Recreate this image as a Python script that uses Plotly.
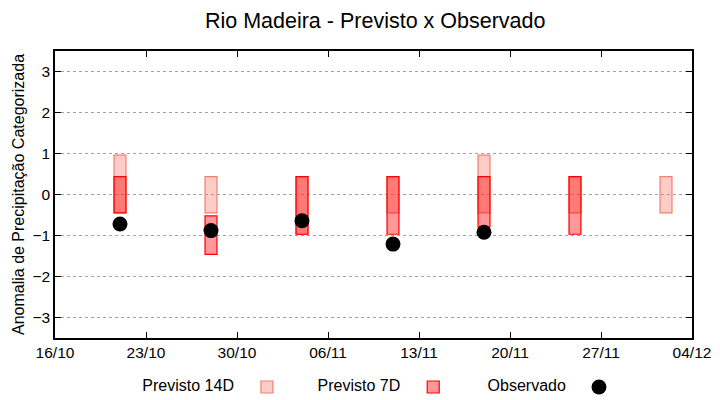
import plotly.graph_objects as go

dates = ["2023-10-21", "2023-10-28", "2023-11-04", "2023-11-11",
         "2023-11-18", "2023-11-25", "2023-12-02"]
p14_low = [-0.45, -0.45, -0.97, -0.45, -0.45, -0.45, -0.45]
p14_high = [0.96, 0.435, 0.435, 0.435, 0.96, 0.435, 0.435]

dates7 = dates[:6]
p7_low = [-0.45, -1.46, -0.97, -0.97, -0.79, -0.97]
p7_high = [0.435, -0.52, 0.435, 0.435, 0.435, 0.435]

obs_dates = dates[:5]
obs_vals = [-0.72, -0.88, -0.64, -1.21, -0.92]

series_names = ["Previsto 14D", "Previsto 7D", "Observado"]

xtick_vals = ["2023-10-16", "2023-10-23", "2023-10-30", "2023-11-06",
              "2023-11-13", "2023-11-20", "2023-11-27", "2023-12-04"]
xtick_text = ["16/10", "23/10", "30/10", "06/11", "13/11", "20/11", "27/11", "04/12"]
ytick_vals = [-3, -2, -1, 0, 1, 2, 3]

DAY = 86400000
bw = 0.92 * DAY

fig = go.Figure()
fig.add_trace(go.Bar(
    name="", x=dates, base=p14_low,
    y=[h - l for h, l in zip(p14_high, p14_low)],
    width=[bw] * len(dates),
    marker=dict(color="rgba(250,128,114,0.4)", line=dict(color="#f08070", width=1.2)),
    hoverinfo="skip", legend="legend",
))
fig.add_trace(go.Bar(
    name="", x=dates7, base=p7_low,
    y=[h - l for h, l in zip(p7_high, p7_low)],
    width=[bw] * len(dates7),
    marker=dict(color="rgba(255,0,0,0.4)", line=dict(color="#ff0000", width=1.2)),
    hoverinfo="skip", legend="legend2",
))
fig.add_trace(go.Scatter(
    name="", x=obs_dates, y=obs_vals, mode="markers",
    marker=dict(color="black", size=15, symbol="circle"),
    legend="legend3",
))

font = "Liberation Sans, Arial, sans-serif"


def leg(title, x):
    return dict(orientation="h", x=x, xanchor="left", y=-0.171, yanchor="middle",
                title=dict(text=title, side="left", font=dict(size=16)),
                font=dict(size=16), itemwidth=40, bgcolor="rgba(0,0,0,0)")


fig.update_layout(
    width=720, height=400,
    margin=dict(l=47, r=36, t=43, b=70, autoexpand=False),
    paper_bgcolor="white", plot_bgcolor="white",
    barmode="overlay",
    font=dict(family=font, size=15.5, color="black"),
    title=dict(text="Rio Madeira - Previsto x Observado", x=0.51, xanchor="center",
               y=0.97, yanchor="middle", font=dict(size=21.5, family=font)),
    showlegend=True,
    legend=leg(series_names[0], 0.134),
    legend2=leg(series_names[1], 0.409),
    legend3=leg(series_names[2], 0.676),
)
fig.update_xaxes(
    type="date", range=["2023-10-16", "2023-12-04"],
    tickmode="array", tickvals=xtick_vals, ticktext=xtick_text,
    ticks="inside", ticklen=6, tickcolor="black",
    showline=True, linecolor="black", linewidth=1.5, mirror="ticks",
    showgrid=False, zeroline=False, automargin=False,
)
fig.update_yaxes(
    range=[-3.5, 3.5], tickmode="array", tickvals=ytick_vals,
    ticks="inside", ticklen=6, tickcolor="black",
    showline=True, linecolor="black", linewidth=1.5, mirror="ticks",
    showgrid=True, gridcolor="#a0a0a0", griddash="dot", gridwidth=1,
    zeroline=False, automargin=False,
    title=dict(text="Anomalia de Precipitação Categorizada", font=dict(size=16), standoff=4),
)

fig.write_html("out.html")
